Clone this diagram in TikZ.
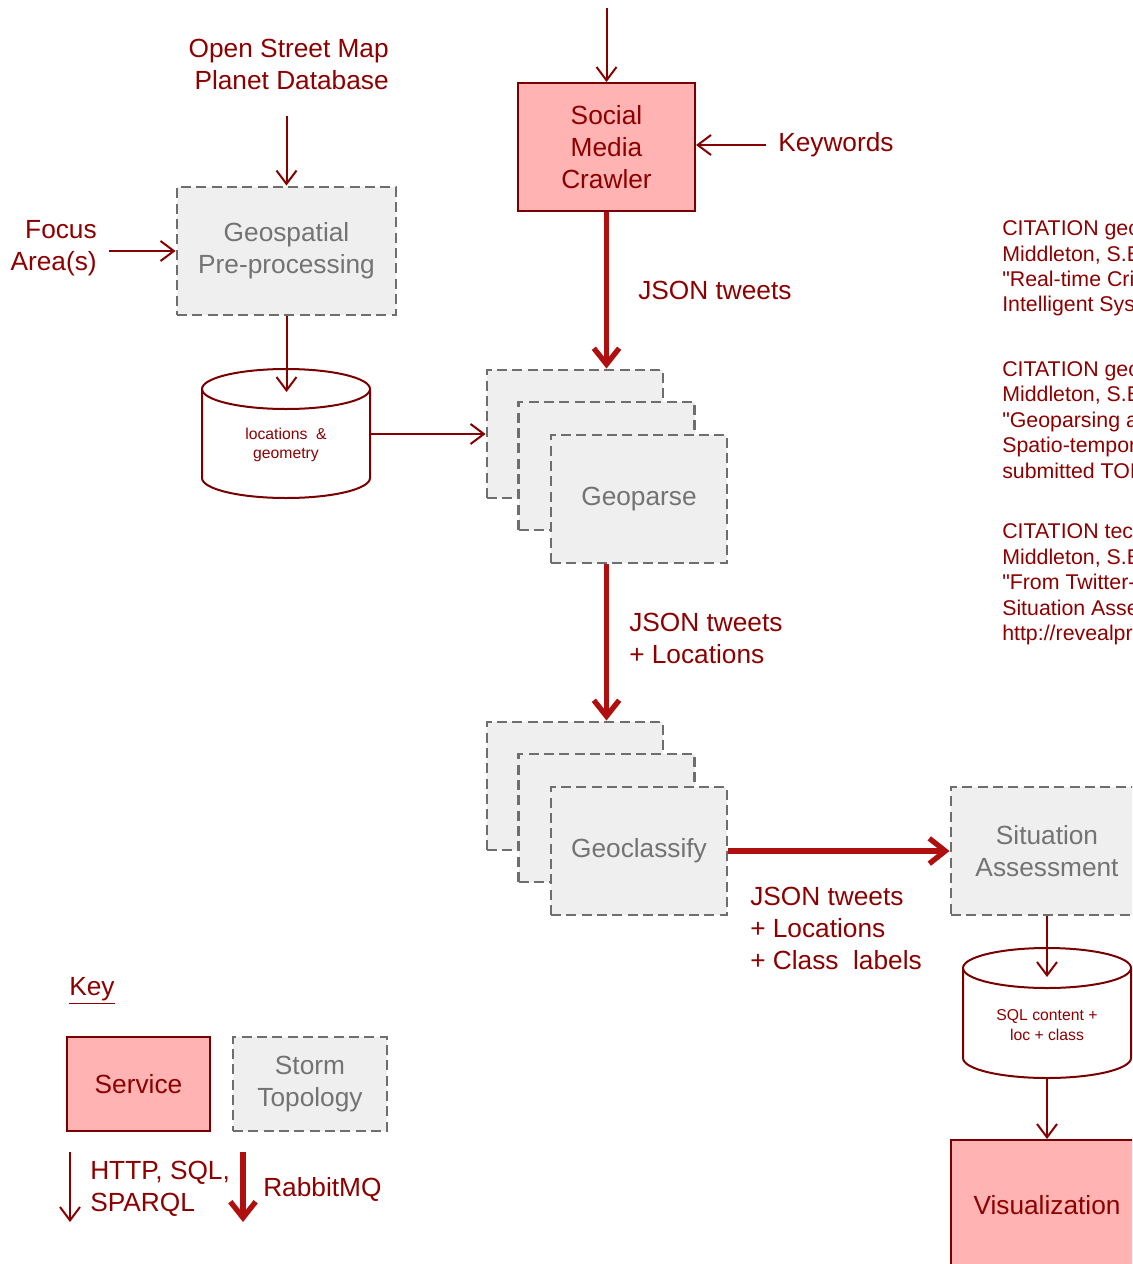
\documentclass[tikz,border=0pt]{standalone}
\usepackage{fontspec}
\setmainfont{Liberation Sans}
\newfontfamily\citefam{Liberation Sans}[Ligatures=TeXOff]
\usetikzlibrary{arrows.meta,calc}

\definecolor{txtred}{RGB}{140,0,0}
\definecolor{boxred}{RGB}{120,0,0}
\definecolor{thinred}{RGB}{135,0,0}
\definecolor{thickred}{RGB}{175,15,15}
\definecolor{pinkfill}{RGB}{255,179,179}
\definecolor{grayfill}{RGB}{239,239,239}
\definecolor{dashgray}{RGB}{110,110,110}
\definecolor{graytext}{RGB}{115,115,115}

\newcommand\mainsize{\fontsize{19.7pt}{24pt}\selectfont}
\newcommand\citesize{\citefam\fontsize{16pt}{19.1pt}\selectfont}
\newcommand\cylsize{\fontsize{11.8pt}{14.5pt}\selectfont}

\begin{document}
\begin{tikzpicture}[x=0.75pt,y=-0.75pt,
  service/.style={draw=boxred, fill=pinkfill, line width=1.5pt, text=txtred,
    font=\mainsize, align=center, inner sep=0pt},
  storm/.style={draw=dashgray, fill=grayfill, line width=2.2pt,
    dash pattern=on 7.5pt off 4pt, text=graytext, font=\mainsize, align=center, inner sep=0pt},
  lbl/.style={text=txtred, font=\mainsize, inner sep=0pt},
  citetxt/.style={text=txtred, font=\citesize, inner sep=0pt, align=left, anchor=west},
  cyl/.style={draw=none, text=txtred, font=\cylsize, align=center, inner sep=0pt,
    minimum width=126pt, minimum height=81pt},
  cylline/.style={draw=boxred, line width=1.5pt},
  thinarr/.style={draw=thinred, line width=1.5pt,
    -{Straight Barb[length=10pt,width=15pt,line width=1.5pt]}},
  thickarr/.style={draw=thickred, line width=4pt,
    -{Straight Barb[length=12pt,width=19pt,line width=4pt]}}
]
\useasboundingbox (0,0) rectangle (1132,1264);
\clip (0,0) rectangle (1132,1264);

% ---------- Social media crawler
\node[service, minimum width=132.75pt, minimum height=96pt] (social) at (606.5,147)
  {Social\\Media\\Crawler};
\coordinate (topin) at (606.5,8);
\node[lbl, anchor=west] (keywords) at (778,145) {Keywords};

% ---------- Geospatial pre-processing
\node[storm, minimum width=164.25pt, minimum height=96pt] (geo) at (286.5,251)
  {Geospatial\\Pre-processing};
\node[lbl, anchor=east, align=right] (osm) at (389,64) {Open Street Map\\Planet Database};
\coordinate (osmout) at (286.5,116);
\node[lbl, anchor=east, align=right] (focus) at (97,248) {Focus\\Area(s)};

% ---------- cylinder 1
\draw[cylline, fill=white] (202,389) -- (202,478)
  arc[start angle=180, end angle=360, x radius=63pt, y radius=15pt] -- (370,389);
\draw[cylline] (286,389) ellipse [x radius=63pt, y radius=15pt];
\node[cyl] (cyl1) at (286,445) {locations~ \&\\geometry};
\coordinate (c1in) at (286.5,392);

% ---------- Geoparse stack
\node[storm, minimum width=132pt, minimum height=96pt] (gp1) at (575,434) {};
\node[storm, minimum width=132pt, minimum height=96pt] (gp2) at (606.5,466) {};
\node[storm, minimum width=132pt, minimum height=96pt] (gp3) at (639,499) {Geoparse};

% ---------- Geoclassify stack
\node[storm, minimum width=132pt, minimum height=96pt] (gc1) at (575,786) {};
\node[storm, minimum width=132pt, minimum height=96pt] (gc2) at (606.5,818) {};
\node[storm, minimum width=132pt, minimum height=96pt] (gc3) at (639,851) {Geoclassify};

% ---------- Situation assessment
\node[storm, minimum width=144pt, minimum height=96pt] (sit) at (1047,851)
  {Situation\\Assessment};

% ---------- cylinder 2
\draw[cylline, fill=white] (963,968) -- (963,1058)
  arc[start angle=180, end angle=360, x radius=63pt, y radius=15pt] -- (1131,968);
\draw[cylline] (1047,968) ellipse [x radius=63pt, y radius=15pt];
\node[cyl] (cyl2) at (1047,1025) {SQL content +\\loc + class};
\coordinate (c2in) at (1047,977);

% ---------- Visualization
\node[service, minimum width=144pt, minimum height=97.5pt] (vis) at (1047,1205)
  {Visualization};

% ---------- arrow labels
\node[lbl, anchor=west] (lab1) at (638,290) {JSON tweets};
\node[lbl, anchor=west, align=left] (lab2) at (629,638) {JSON tweets\\+ Locations};
\node[lbl, anchor=west, align=left] (lab3) at (750,928) {JSON tweets\\+ Locations\\+ Class~ labels};

% ---------- connectors
\draw[thinarr] (topin) -- (social.north);
\draw[thinarr] (keywords.west) ++(-12,0) coordinate (kwout) -- (social.east |- kwout);
\draw[thinarr] (osmout) -- (geo.north);
\draw[thinarr] (focus.east |- geo.west) ++(12,0) coordinate (fout) -- (geo.west);
\draw[thinarr] (geo.south) -- (c1in);
\draw[thinarr] (cyl1.east |- gp1.west) -- (gp1.west);
\draw[thickarr] (social.south) -- (social.south |- gp1.north);
\draw[thickarr] (social.south |- gp3.south) -- (social.south |- gc1.north);
\draw[thickarr] (gc3.east |- sit.west) -- (sit.west);
\draw[thinarr] (sit.south) -- (c2in);
\draw[thinarr] (cyl2.south) -- (vis.north);

% ---------- citations
\node[citetxt] (cit1) at (1002,268.5)
  {CITATION geo\\Middleton, S.E.\\"Real-time Crisis\\Intelligent Systems};
\node[citetxt] (cit2) at (1002,420)
  {CITATION geo\\Middleton, S.E.\\"Geoparsing and\\Spatio-temporal\\submitted TOIS};
\node[citetxt] (cit3) at (1002,584.5)
  {CITATION tec\\Middleton, S.E.\\"From Twitter-based\\Situation Assessment\\http://revealproject};

% ---------- key
\node[lbl, anchor=west] (key) at (69,991) {\underline{Key}};
\node[service, minimum width=107.25pt, minimum height=70.5pt] (ksvc) at (138.5,1084) {Service};
\node[storm, minimum width=115.5pt, minimum height=70.5pt] (kstorm) at (310,1084) {Storm\\Topology};
\coordinate (k1a) at (70,1152);
\coordinate (k1b) at (70,1222);
\coordinate (k2a) at (243,1152);
\coordinate (k2b) at (243,1222);
\draw[thinarr] (k1a) -- (k1b);
\draw[thickarr] (k2a) -- (k2b);
\node[lbl, anchor=west, align=left] (khttp) at (90,1189) {HTTP, SQL,\\SPARQL};
\node[lbl, anchor=west] (krabbit) at (263,1189) {RabbitMQ};
\end{tikzpicture}
\end{document}
